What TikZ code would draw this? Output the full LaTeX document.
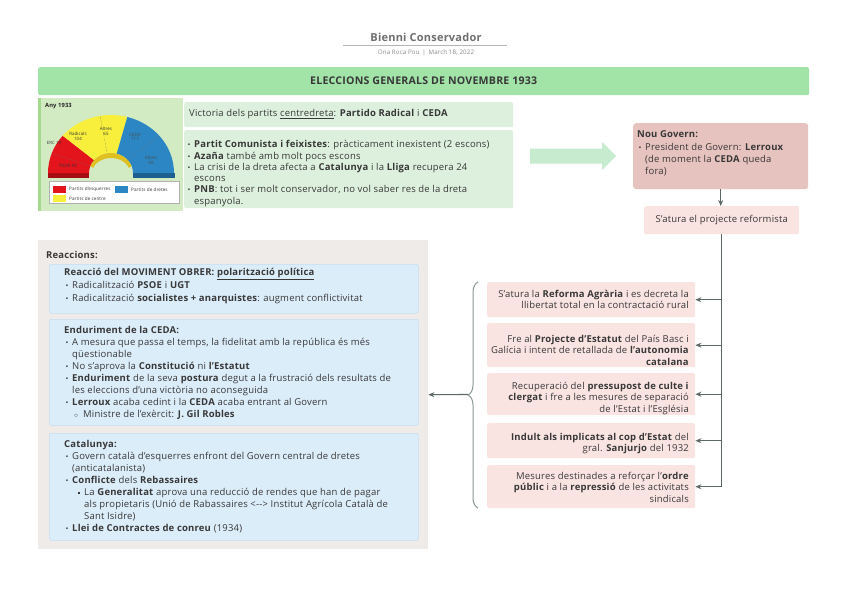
\documentclass[tikz,border=0pt]{standalone}
\usepackage{fontspec}
\usepackage{graphicx}
\setmainfont{Open Sans}[LetterSpace=2]
\usetikzlibrary{arrows.meta,decorations.pathreplacing}
\definecolor{titlec}{HTML}{6F6F6F}
\definecolor{subc}{HTML}{8A8A8A}
\definecolor{rulec}{HTML}{B5B5B5}
\definecolor{bannerc}{HTML}{A2E3A8}
\definecolor{textc}{HTML}{383838}
\definecolor{chartbg}{HTML}{D3EBC3}
\definecolor{chartedge}{HTML}{A5D98F}
\definecolor{gboxc}{HTML}{DDF0DD}
\definecolor{arrowc}{HTML}{C6EBCF}
\definecolor{nouc}{HTML}{E7C3BF}
\definecolor{pinkc}{HTML}{FAE4E2}
\definecolor{reacc}{HTML}{EEEBE8}
\definecolor{bluefill}{HTML}{DCEDFA}
\definecolor{blueb}{HTML}{C4DEF2}
\definecolor{connc}{HTML}{5D6965}
\definecolor{bracec}{HTML}{8B9898}
\definecolor{redc}{HTML}{E3141B}
\definecolor{reddark}{HTML}{A50E12}
\definecolor{yellowc}{HTML}{F7EF3C}
\definecolor{yellowdark}{HTML}{E0C020}
\definecolor{bluec}{HTML}{2B86C3}
\definecolor{bluedark}{HTML}{1D5F8E}
\newcommand{\mybul}{\hspace*{1.5pt}\makebox[6.5pt][l]{\scalebox{0.8}{\textbullet}}}
\newcommand{\myind}{\hspace*{8pt}}
\newcommand{\mysubc}{\hspace*{10pt}\makebox[9pt][l]{$\scriptstyle\circ$}}
\newcommand{\mysubs}{\hspace*{14pt}\makebox[6pt][l]{\rule[1.2pt]{2.2pt}{2.2pt}}}
\newcommand{\mysubind}{\hspace*{20pt}}
\tikzset{
  base/.style={inner sep=0pt, text=textc},
  txt/.style={base, align=left, anchor=north west, font=\fontsize{9.5}{11.9}\selectfont},
  rtxt/.style={base, align=right, anchor=north east, font=\fontsize{9.5}{11.2}\selectfont},
  gbox/.style={fill=gboxc, rounded corners=2pt, inner sep=0pt, anchor=north west},
  pbox/.style={fill=pinkc, rounded corners=2pt, inner sep=0pt, anchor=north west},
  bbox/.style={fill=bluefill, draw=blueb, line width=0.6pt, rounded corners=2pt, inner sep=0pt, anchor=north west},
  conn/.style={draw=connc, line width=1.1pt, -{Stealth[length=6pt,width=5pt]}},
  chl/.style={inner sep=0pt, align=center, font=\fontsize{4.4}{4.8}\selectfont, text=black!80},
  legt/.style={inner sep=0pt, anchor=west, font=\fontsize{4.6}{5}\selectfont, text=black!80},
}
\begin{document}
\begin{tikzpicture}[x=1pt,y=-1pt]
\useasboundingbox (0,0) rectangle (848,599);
\fill[white] (0,0) rectangle (848,599);

% header
\node (title) [inner sep=0pt, font=\fontsize{11}{12}\selectfont\bfseries, text=titlec] at (426,37) {Bienni Conservador};
\coordinate (ulL) at (343,45);
\coordinate (ulR) at (507,45);
\draw[rulec, line width=0.9pt] (ulL) -- (ulR);
\node (sub) [inner sep=0pt, font=\fontsize{6.2}{7}\selectfont, text=subc] at (426,53) {Ona Roca Pou \,|\, March 18, 2022};

% banner
\node (banner) [fill=bannerc, rounded corners=2pt, minimum width=771, minimum height=28, inner sep=0pt, anchor=north west, font=\fontsize{10.6}{11}\selectfont\bfseries, text=textc] at (38,67) {ELECCIONS GENERALS DE NOVEMBRE 1933};

% chart
\node (chart) [fill=chartbg, minimum width=145, minimum height=113, inner sep=0pt, anchor=north west] at (38,98) {};
\fill[chartedge] (38,98) rectangle (41,211);
\begin{scope}[shift={(111,173)}, y=1pt]
  \fill[reddark] (-63,0) rectangle (-22,-5);
  \fill[bluedark] (22,0) rectangle (64,-5);
  \fill[redc] (180:63 and 58) arc[start angle=180,end angle=140,x radius=63,y radius=58] -- (140:22 and 20) arc[start angle=140,end angle=180,x radius=22,y radius=20] -- cycle;
  \fill[yellowc] (140:63 and 58) arc[start angle=140,end angle=75,x radius=63,y radius=58] -- (75:22 and 20) arc[start angle=75,end angle=140,x radius=22,y radius=20] -- cycle;
  \fill[bluec] (75:63 and 58) arc[start angle=75,end angle=0,x radius=63,y radius=58] -- (0:22 and 20) arc[start angle=0,end angle=75,x radius=22,y radius=20] -- cycle;
  \fill[yellowdark] (160:22 and 20) arc[start angle=160,end angle=20,x radius=22,y radius=20] -- (20:19 and 15) arc[start angle=20,end angle=160,x radius=19,y radius=15] -- cycle;
  \draw[densely dotted, black!55, line width=0.4pt] (160:22 and 20) -- (160:63 and 58);
  \draw[densely dotted, black!55, line width=0.4pt] (100:22 and 20) -- (100:63 and 58);
  \draw[densely dotted, black!55, line width=0.4pt] (40:22 and 20) -- (40:63 and 58);
  \node (lrad) [chl] at (-33,37) {Radicals\\104};
  \node (lalt) [chl] at (-5,42) {Altres\\65};
  \node (lceda) [chl, text=black!70] at (24,36) {CEDA\\117};
  \node (lalt2) [chl, text=black!70] at (40,13) {Altres\\49};
  \node (lerc) [chl] at (-57,30) {ERC 19};
  \node (lpsoe) [chl] at (-43,7) {PSOE 59};
\end{scope}
\node (any) [inner sep=0pt, anchor=west, font=\fontsize{5.8}{6}\selectfont\bfseries, text=black!85] at (45,106) {Any 1933};
\node (legend) [fill=white, draw=black!30, line width=0.4pt, minimum width=130, minimum height=22, inner sep=0pt, anchor=north west] at (49,181) {};
\fill[redc] (53,186) rectangle (66,193);
\fill[bluec] (115,186) rectangle (128,193);
\fill[yellowc] (53,195) rectangle (66,202);
\node (leg1) [legt] at (69,189.5) {Partits d'esquerres};
\node (leg2) [legt] at (131,189.5) {Partits de dretes};
\node (leg3) [legt] at (69,198.5) {Partits de centre};

% green text boxes
\node (vict) [gbox, minimum width=329, minimum height=25] at (184,102) {};
\node (victt) [base, anchor=west, font=\fontsize{9.5}{11}\selectfont] at (189,114) {Victoria dels partits \underline{centredreta}: \textbf{Partido Radical} i \textbf{CEDA}};
\node (parts) [gbox, minimum width=329, minimum height=78] at (184,130) {};
\node (partst) [txt, font=\fontsize{9.5}{11.3}\selectfont] at (186,139.6) {\strut\mybul\textbf{Partit Comunista i feixistes}: pràcticament inexistent (2 escons)\\
\mybul\textbf{Azaña} també amb molt pocs escons\\
\mybul La crisi de la dreta afecta a \textbf{Catalunya} i la \textbf{Lliga} recupera 24\\
\myind escons\\
\mybul\textbf{PNB}: tot i ser molt conservador, no vol saber res de la dreta\\
\myind espanyola.};

% big arrow
\fill[arrowc] (530,148.5) -- (602,148.5) -- (602,142) -- (616,156) -- (602,170) -- (602,163.5) -- (530,163.5) -- cycle;

% Nou govern
\node (nou) [fill=nouc, rounded corners=3pt, minimum width=175, minimum height=66, inner sep=0pt, anchor=north west] at (633,123) {};
\node (nout) [txt, font=\fontsize{9.5}{12.3}\selectfont] at (637,128.9) {\strut\textbf{Nou Govern:}\\
\mybul President de Govern: \textbf{Lerroux}\\
\myind(de moment la \textbf{CEDA} queda\\
\myind fora)};
\node (satura) [pbox, minimum width=155, minimum height=28, font=\fontsize{9.5}{11}\selectfont, text=textc] at (644,206) {S'atura el projecte reformista};
\draw[conn] (nou.south) -- (nou.south |- satura.north);

% right boxes
\node (rA) [pbox, minimum width=208, minimum height=35] at (487,282) {};
\node (rB) [pbox, minimum width=208, minimum height=44] at (487,323) {};
\node (rC) [pbox, minimum width=208, minimum height=42] at (487,373) {};
\node (rD) [pbox, minimum width=208, minimum height=35] at (487,423) {};
\node (rE) [pbox, minimum width=208, minimum height=43] at (487,465) {};
\node (rAt) [rtxt] at (689,289.7) {\strut S'atura la \textbf{Reforma Agrària} i es decreta la\\ llibertat total en la contractació rural};
\node (rBt) [rtxt] at (689,334.7) {\strut Fre al \textbf{Projecte d'Estatut} del País Basc i\\ Galícia i intent de retallada de \textbf{l'autonomia}\\ \textbf{catalana}};
\node (rCt) [rtxt] at (689,381.7) {\strut Recuperació del \textbf{pressupost de culte i}\\ \textbf{clergat} i fre a les mesures de separació\\ de l'Estat i l'Església};
\node (rDt) [rtxt] at (689,432.7) {\strut\textbf{Indult als implicats al cop d'Estat} del\\ gral. \textbf{Sanjurjo} del 1932};
\node (rEt) [rtxt] at (689,471.7) {\strut Mesures destinades a reforçar l'\textbf{ordre}\\ \textbf{públic} i a la \textbf{repressió} de les activitats\\ sindicals};

% trunk and branches
\draw[conn] (satura.south) -- (satura.south |- rE.east) -- (rE.east);
\draw[conn] (satura.south |- rA.east) -- (rA.east);
\draw[conn] (satura.south |- rB.east) -- (rB.east);
\draw[conn] (satura.south |- rC.east) -- (rC.east);
\draw[conn] (satura.south |- rD.east) -- (rD.east);

% reactions
\node (reac) [fill=reacc, minimum width=390, minimum height=309, inner sep=0pt, anchor=north west] at (38,240) {};
\node (react) [base, anchor=west, font=\fontsize{9.5}{11}\selectfont\bfseries] at (46,255) {Reaccions:};
\node (b1) [bbox, minimum width=369, minimum height=49] at (49,264) {};
\node (b2) [bbox, minimum width=369, minimum height=106] at (49,319) {};
\node (b3) [bbox, minimum width=369, minimum height=107] at (49,433) {};
\node (b1t) [txt, font=\fontsize{9.5}{13}\selectfont] at (64,266.4) {\strut\textbf{Reacció del MOVIMENT OBRER: \underline{polarització política}}\\
\mybul Radicalització \textbf{PSOE} i \textbf{UGT}\\
\mybul Radicalització \textbf{socialistes + anarquistes}: augment conflictivitat};
\node (b2t) [txt] at (64,325.2) {\strut\textbf{Enduriment de la CEDA:}\\
\mybul A mesura que passa el temps, la fidelitat amb la república és més\\
\myind qüestionable\\
\mybul No s'aprova la \textbf{Constitució} ni \textbf{l'Estatut}\\
\mybul\textbf{Enduriment} de la seva \textbf{postura} degut a la frustració dels resultats de\\
\myind les eleccions d'una victòria no aconseguida\\
\mybul\textbf{Lerroux} acaba cedint i la \textbf{CEDA} acaba entrant al Govern\\
\mysubc Ministre de l'exèrcit: \textbf{J. Gil Robles}};
\node (b3t) [txt] at (64,439.2) {\strut\textbf{Catalunya:}\\
\mybul Govern català d'esquerres enfront del Govern central de dretes\\
\myind (anticatalanista)\\
\mybul\textbf{Conflicte} dels \textbf{Rebassaires}\\
\mysubs La \textbf{Generalitat} aprova una reducció de rendes que han de pagar\\
\mysubind als propietaris (Unió de Rabassaires <-{}-> Institut Agrícola Català de\\
\mysubind Sant Isidre)\\
\mybul\textbf{Llei de Contractes de conreu} (1934)};

% brace
\coordinate (braceT) at (478,282);
\coordinate (braceB) at (478,508);
\coordinate (bracetip) at (468,394.5);
\draw[bracec, line width=1pt, decorate, decoration={brace, amplitude=10pt}] (braceB) -- (braceT);
\draw[conn] (bracetip) -- (reac.east);
\end{tikzpicture}
\end{document}
